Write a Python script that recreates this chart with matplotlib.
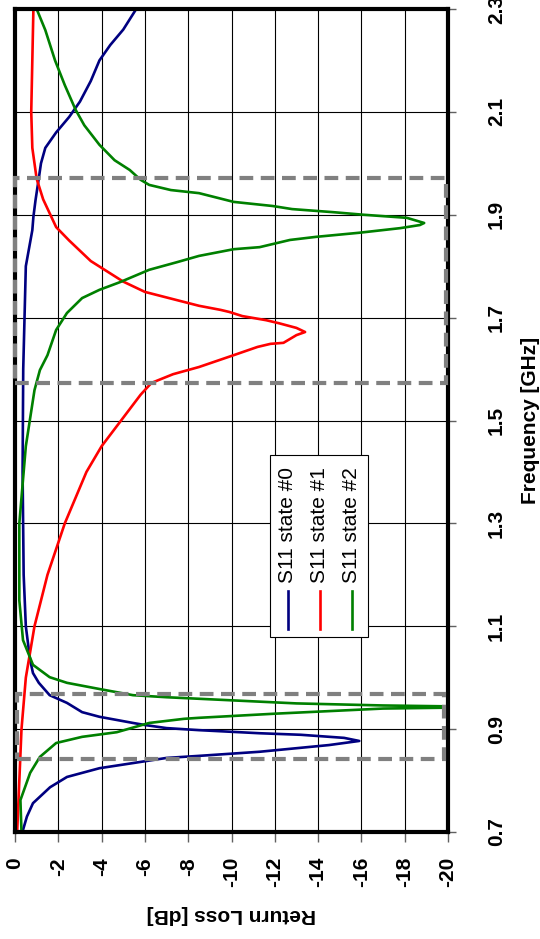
import numpy as np
import matplotlib.pyplot as plt
from matplotlib.patches import Rectangle

plt.rcParams['font.family'] = ['Liberation Sans', 'DejaVu Sans']

# ---- data (frequency in GHz, return loss in dB) ----
freq_s0 = [0.70, 0.704, 0.73, 0.756, 0.787, 0.807, 0.824, 0.834, 0.844, 0.848,
           0.856, 0.869, 0.877, 0.883, 0.889, 0.892, 0.898, 0.902, 0.908, 0.912,
           0.924, 0.933, 0.951, 0.966, 0.99, 1.009, 1.034, 1.10, 1.20, 1.40,
           1.60, 1.80, 1.87, 1.896, 1.929, 1.971, 2.00, 2.03, 2.06, 2.09,
           2.12, 2.16, 2.20, 2.23, 2.26, 2.30]
loss_s0 = [-0.3, -0.37, -0.55, -0.83, -1.62, -2.4, -3.9, -5.45, -7.0, -8.5,
           -11.3, -14.5, -15.9, -15.2, -13.2, -11.3, -8.5, -7.0, -6.0, -5.45,
           -3.9, -3.1, -2.4, -1.6, -1.1, -0.83, -0.7, -0.5, -0.4, -0.35,
           -0.38, -0.5, -0.8, -0.85, -0.95, -1.1, -1.2, -1.4, -1.9, -2.5,
           -3.0, -3.5, -3.9, -4.4, -5.0, -5.6]

freq_s1 = [0.70, 0.80, 0.90, 1.00, 1.10, 1.20, 1.30, 1.40, 1.45, 1.50,
           1.55, 1.573, 1.59, 1.604, 1.627, 1.643, 1.649, 1.651, 1.666, 1.672,
           1.680, 1.689, 1.695, 1.703, 1.711, 1.715, 1.723, 1.75, 1.77, 1.81,
           1.85, 1.876, 1.93, 1.97, 2.03, 2.10, 2.20, 2.30]
loss_s1 = [-0.1, -0.2, -0.3, -0.5, -0.9, -1.5, -2.3, -3.3, -4.0, -4.9,
           -5.8, -6.3, -7.3, -8.5, -10.1, -11.2, -11.8, -12.4, -13.0, -13.4,
           -13.0, -12.2, -11.6, -10.5, -9.9, -9.5, -8.5, -6.0, -5.0, -3.5,
           -2.5, -1.9, -1.3, -1.0, -0.8, -0.75, -0.8, -0.85]

freq_s2 = [0.70, 0.762, 0.815, 0.846, 0.873, 0.885, 0.894, 0.912, 0.92, 0.922,
           0.93, 0.936, 0.94, 0.942, 0.944, 0.946, 0.95, 0.955, 0.959, 0.962,
           0.966, 0.978, 0.99, 1.001, 1.025, 1.073, 1.15, 1.30, 1.45, 1.559,
           1.598, 1.627, 1.676, 1.709, 1.738, 1.754, 1.769, 1.793, 1.808, 1.82,
           1.833, 1.837, 1.851, 1.857, 1.865, 1.874, 1.88, 1.884, 1.894, 1.90,
           1.905, 1.911, 1.917, 1.925, 1.942, 1.948, 1.958, 1.968, 1.987, 2.006,
           2.036, 2.074, 2.104, 2.152, 2.20, 2.259, 2.30]
loss_s2 = [-0.3, -0.25, -0.7, -1.15, -1.9, -3.1, -4.7, -6.2, -7.8, -8.5,
           -12.0, -15.0, -17.0, -20.5, -20.5, -17.0, -13.0, -10.5, -8.5, -7.0,
           -5.45, -3.9, -2.4, -1.6, -0.83, -0.37, -0.2, -0.2, -0.5, -0.9,
           -1.15, -1.5, -1.9, -2.4, -3.1, -3.9, -4.85, -6.2, -7.5, -8.5,
           -10.1, -11.3, -12.7, -13.9, -15.9, -17.8, -18.7, -18.9, -18.1, -16.1,
           -14.7, -12.8, -11.9, -10.1, -8.5, -7.2, -6.2, -5.8, -5.3, -4.6,
           -3.9, -3.2, -2.8, -2.3, -1.85, -1.4, -1.0]

series_labels = ['S11 state #0', 'S11 state #1', 'S11 state #2']
series_colors = ['#000080', '#ff0000', '#008000']

# marked bands (GHz)
band_low = (0.842, 0.968)
band_high = (1.573, 1.971)

loss_ticks = list(range(0, -21, -2))
freq_ticks = [0.7, 0.9, 1.1, 1.3, 1.5, 1.7, 1.9, 2.1, 2.3]

# ---- figure: chart drawn rotated (frequency runs up, loss runs right) ----
fig = plt.figure(figsize=(5.40, 9.39), dpi=100)
ax = fig.add_axes([15 / 540, 1 - 832 / 939, 433 / 540, 823 / 939])

curves = [(freq_s0, loss_s0), (freq_s1, loss_s1), (freq_s2, loss_s2)]
for (f, l), c in zip(curves, series_colors):
    ax.plot(l, f, color=c, lw=1.9, zorder=3)

ax.set_xlim(0, -20)
ax.set_ylim(0.7, 2.3)
ax.set_xticks(loss_ticks)
ax.set_yticks(freq_ticks)
ax.set_xticklabels([str(t) for t in loss_ticks], rotation=90, fontsize=15,
                   fontweight='bold')
ax.yaxis.tick_right()
ax.yaxis.set_label_position('right')
ax.set_yticklabels([f'{t:.1f}' for t in freq_ticks], rotation=90, fontsize=15,
                   fontweight='bold', va='center')
ax.tick_params(axis='x', direction='out', length=7, width=1, color='#606060', pad=11)
ax.tick_params(axis='y', direction='out', length=6, width=1, color='#606060', pad=22)

ax.grid(True, color='black', lw=0.8)
ax.set_axisbelow(True)
for s in ax.spines.values():
    s.set_linewidth(3)
    s.set_zorder(5)

ax.set_xlabel('Return Loss [dB]', fontsize=15, fontweight='bold', rotation=180,
              labelpad=13)
ax.set_ylabel('Frequency [GHz]', fontsize=15, fontweight='bold', rotation=90,
              labelpad=11)

# dashed boxes around the bands
for (lo, hi), x0, x1 in [(band_low, -0.1, -19.8), (band_high, 0.0, -19.9)]:
    r = Rectangle((x0, lo), x1 - x0, hi - lo, fill=False, edgecolor='#808080',
                  lw=3, linestyle=(0, (3.3, 1.8)), zorder=6, clip_on=False)
    ax.add_patch(r)

# legend, drawn rotated by hand (axes fraction)
tr = ax.transAxes
ax.add_patch(Rectangle((0.589, 0.237), 0.226, 0.221, transform=tr,
                       facecolor='white', edgecolor='black', lw=0.8, zorder=7))
for i, (lab, c) in enumerate(zip(series_labels, series_colors)):
    xf = 0.630 + i * 0.074
    ax.plot([xf, xf], [0.247, 0.293], transform=tr, color=c, lw=1.9, zorder=8)
    ax.text(xf, 0.303, lab, transform=tr, rotation=90, ha='center', va='bottom',
            fontsize=15, zorder=8)

fig.savefig('out.png', dpi=100)
